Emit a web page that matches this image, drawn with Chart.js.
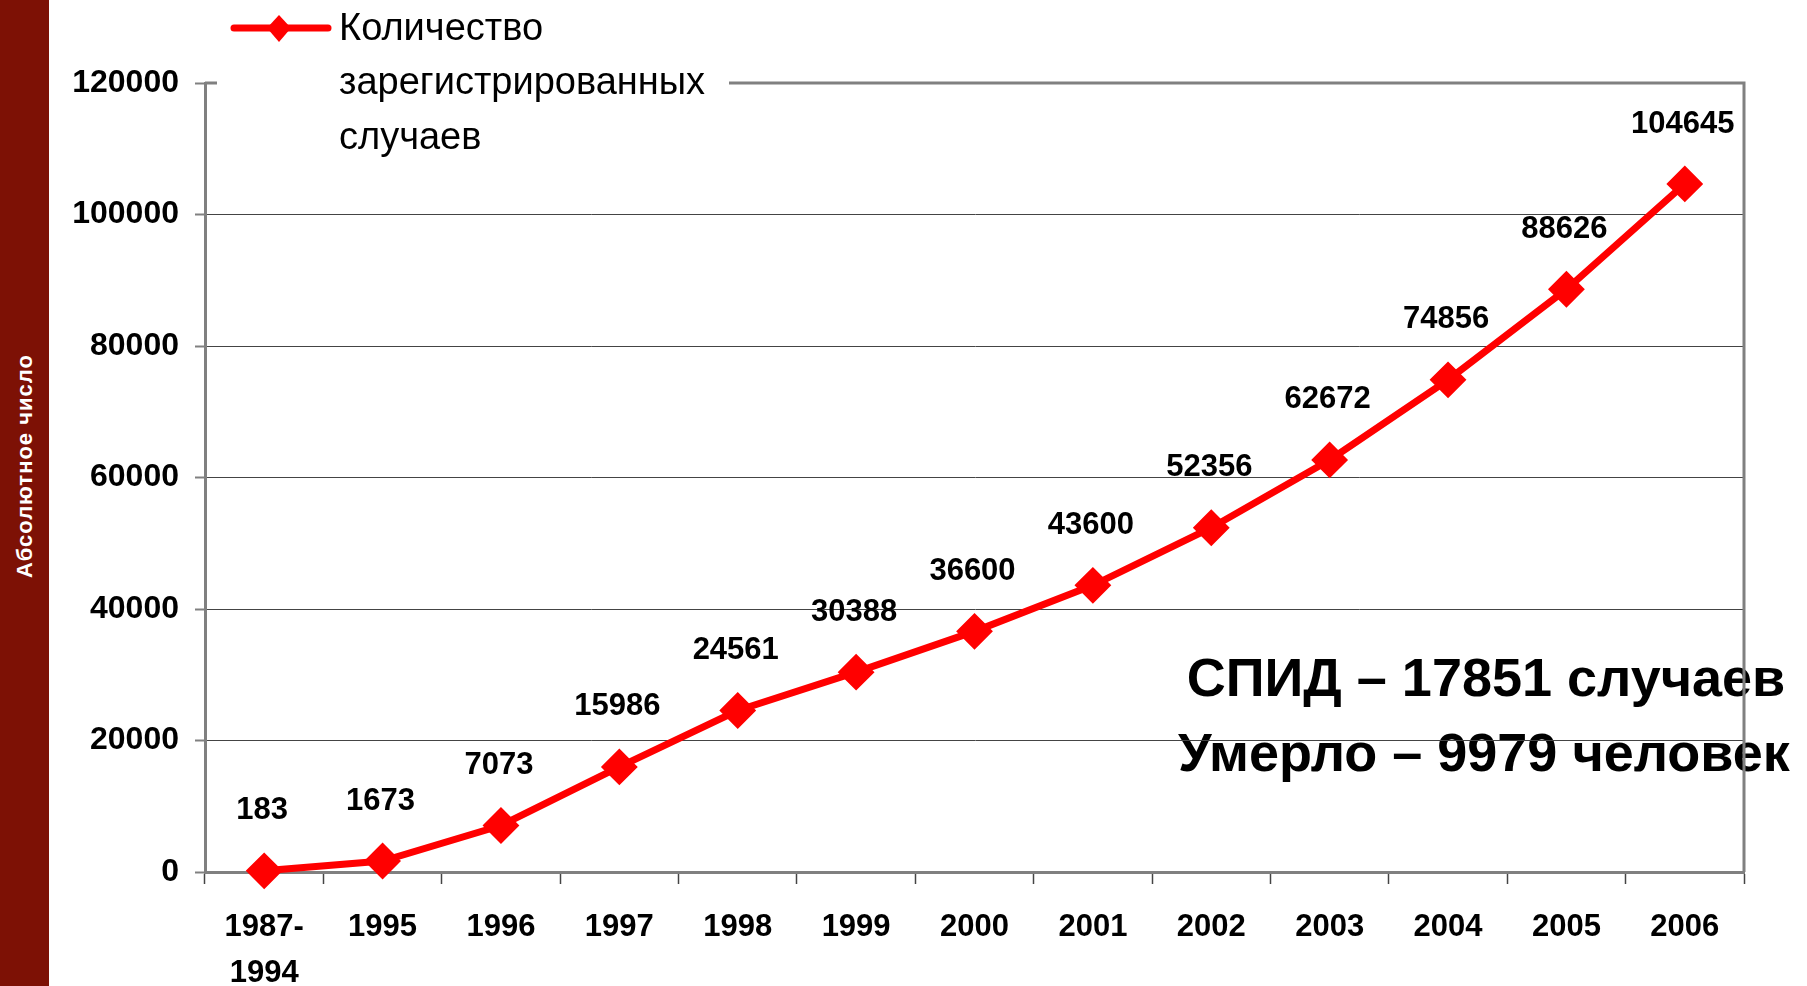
<!DOCTYPE html>
<html>
<head>
<meta charset="utf-8">
<script src="https://cdn.jsdelivr.net/npm/chart.js@4.4.1/dist/chart.umd.min.js"></script>
<style>
html,body{margin:0;padding:0;background:#fff;width:1807px;height:986px;overflow:hidden;}
#c{position:absolute;left:0;top:0;width:1807px;height:986px;}
#bar{position:absolute;left:0;top:0;width:49px;height:986px;background:#7d1105;}
#ylab{position:absolute;left:25px;top:466px;transform:translate(-50%,-50%) rotate(-90deg);white-space:nowrap;color:#fff;font:bold 22px 'Liberation Sans',Arial,sans-serif;letter-spacing:1px;}
</style>
</head>
<body>
<canvas id="c" width="1807" height="986"></canvas>
<div id="bar"><div id="ylab"></div></div>
<script>
// ---- data ----
const categories = [['1987-','1994'],'1995','1996','1997','1998','1999','2000','2001','2002','2003','2004','2005','2006'];
const registered = [183,1673,7073,15986,24561,30388,36600,43600,52356,62672,74856,88626,104645];
const yTicks = [0,20000,40000,60000,80000,100000,120000];
const seriesName = 'Количество зарегистрированных случаев';
const legendLines = ['Количество','зарегистрированных','случаев'];
const notes = ['СПИД – 17851 случаев','Умерло – 9979 человек'];
const yAxisTitle = 'Абсолютное число';

document.getElementById('ylab').textContent = yAxisTitle;

const FAM = "'Liberation Sans', Arial, sans-serif";
const RED = '#ff0000';

const notesPlugin = {
  id:'notes',
  beforeDraw(chart){
    const ctx = chart.ctx;
    ctx.save();
    ctx.fillStyle = '#000';
    ctx.font = 'bold 54px ' + FAM;
    ctx.textAlign = 'center';
    ctx.textBaseline = 'middle';
    ctx.fillText(notes[0], 1486, 681);
    ctx.fillText(notes[1], 1484, 756);
    ctx.restore();
  }
};

const labelPlugin = {
  id:'valueLabels',
  afterDatasetsDraw(chart){
    const ctx = chart.ctx;
    const meta = chart.getDatasetMeta(0);
    ctx.save();
    ctx.fillStyle = '#000';
    ctx.font = 'bold 31px ' + FAM;
    ctx.textAlign = 'center';
    ctx.textBaseline = 'middle';
    meta.data.forEach((pt, i) => {
      ctx.fillText(String(registered[i]), pt.x - 2, pt.y - 60);
    });
    ctx.restore();
  }
};

const framePlugin = {
  id:'frameLegend',
  afterDraw(chart){
    const ctx = chart.ctx;
    const a = chart.chartArea;
    ctx.save();
    ctx.strokeStyle = '#808080';
    ctx.lineWidth = 3;
    ctx.beginPath();
    ctx.moveTo(a.left, a.top);
    ctx.lineTo(a.right, a.top);
    ctx.lineTo(a.right, a.bottom);
    ctx.stroke();
    // legend box
    ctx.fillStyle = '#fff';
    ctx.fillRect(217, 0, 512, 160);
    // sample line
    ctx.strokeStyle = RED;
    ctx.lineWidth = 7;
    ctx.lineCap = 'round';
    ctx.beginPath();
    ctx.moveTo(234, 28);
    ctx.lineTo(328, 28);
    ctx.stroke();
    ctx.fillStyle = RED;
    ctx.beginPath();
    ctx.moveTo(279, 15);
    ctx.lineTo(291, 28);
    ctx.lineTo(279, 42);
    ctx.lineTo(267, 28);
    ctx.closePath();
    ctx.fill();
    ctx.fillStyle = '#000';
    ctx.font = '38px ' + FAM;
    ctx.textAlign = 'left';
    ctx.textBaseline = 'alphabetic';
    const base = [40, 94, 149];
    legendLines.forEach((t, i) => ctx.fillText(t, 339, base[i]));
    ctx.restore();
  }
};

new Chart(document.getElementById('c'), {
  type:'line',
  data:{
    labels:categories,
    datasets:[{
      label:seriesName,
      data:registered,
      borderColor:RED,
      backgroundColor:RED,
      borderWidth:7,
      tension:0,
      pointStyle:'rectRot',
      pointRadius:17,
      pointBorderWidth:2,
      pointBackgroundColor:RED,
      pointBorderColor:RED,
      clip:false
    }]
  },
  options:{
    responsive:false,
    animation:false,
    devicePixelRatio:1,
    layout:{padding:{left:0,right:63,top:83,bottom:0}},
    plugins:{legend:{display:false},tooltip:{enabled:false}},
    scales:{
      x:{
        offset:true,
        grid:{offset:true,drawOnChartArea:false,drawTicks:true,tickLength:12,tickColor:'#444',tickWidth:1.5},
        border:{color:'#808080',width:3},
        ticks:{color:'#000',font:{family:FAM,size:31,weight:'bold',lineHeight:1.5},padding:20,maxRotation:0,autoSkip:false},
        afterFit(s){ s.height = 114; }
      },
      y:{
        min:0,max:120000,
        afterBuildTicks(s){ s.ticks = yTicks.map(v => ({value:v})); },
        ticks:{color:'#000',font:{family:FAM,size:32,weight:'bold'},padding:16,callback:v => String(v)},
        grid:{color:'#444',lineWidth:1,drawTicks:true,tickLength:10,tickColor:'#808080',tickWidth:2},
        border:{color:'#808080',width:3},
        afterFit(s){ s.width = 205; }
      }
    }
  },
  plugins:[notesPlugin,labelPlugin,framePlugin]
});
</script>
</body>
</html>
